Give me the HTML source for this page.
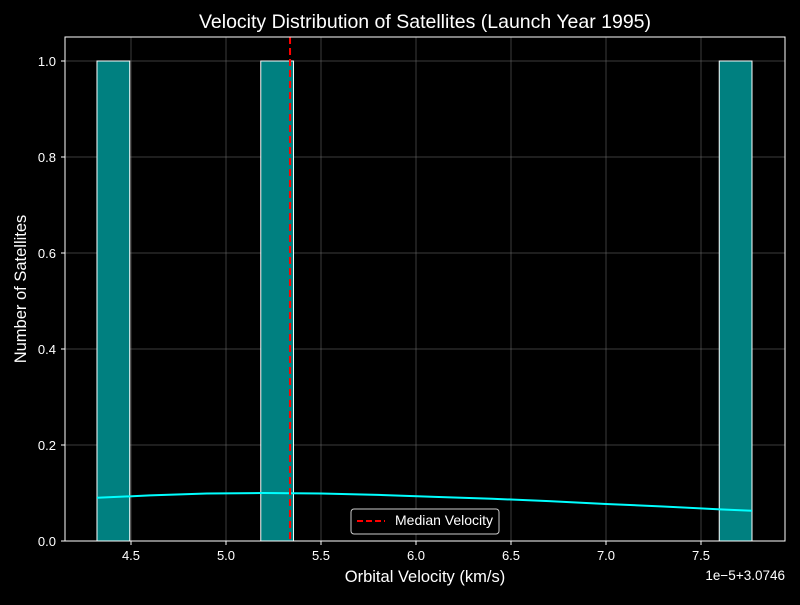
<!DOCTYPE html>
<html><head><meta charset="utf-8"><style>
html,body{margin:0;padding:0;background:#000;}
svg text{font-family:"Liberation Sans",sans-serif;fill:#fff;}
</style></head><body>
<svg id="chart" width="800" height="600" xmlns="http://www.w3.org/2000/svg">
<rect width="800" height="600" fill="#000"/>
<g id="grid"></g><g id="bars"></g><g id="marks"></g><g id="axes"></g>
<text x="425" y="28" font-size="19.5" text-anchor="middle">Velocity Distribution of Satellites (Launch Year 1995)</text>
<text x="425" y="582" font-size="16.5" text-anchor="middle">Orbital Velocity (km/s)</text>
<text transform="translate(26,289) rotate(-90)" font-size="16.5" text-anchor="middle">Number of Satellites</text>
<text x="785" y="580" font-size="13.5" text-anchor="end">1e−5+3.0746</text>
<g>
<rect x="351" y="509" width="148" height="25" rx="3" fill="#000" stroke="#ccc" stroke-width="1"/>
<line x1="357" y1="521" x2="385" y2="521" stroke="#f00" stroke-width="2" stroke-dasharray="6,3"/>
<text x="395" y="525" font-size="14">Median Velocity</text>
</g>
</svg>
<script>
const xTicks=[4.5,5.0,5.5,6.0,6.5,7.0,7.5];
const yTicks=[0.0,0.2,0.4,0.6,0.8,1.0];
const binEdgesStart=[4.321,5.183,7.596];
const binWidth=0.1724;
const counts=[1,1,1];
const median=5.337;
const kdeX=[4.321,4.6,4.9,5.2,5.5,5.8,6.1,6.4,6.7,7.0,7.3,7.6,7.768];
const kdeY=[0.090,0.095,0.099,0.100,0.099,0.096,0.092,0.088,0.083,0.077,0.072,0.066,0.063];
const L=65,R=785,T=37,B=541;
const xs=v=>131+(v-4.5)*190;
const ys=v=>B-v*480;
const NS="http://www.w3.org/2000/svg";
function mk(tag,attrs,parent){const e=document.createElementNS(NS,tag);for(const k in attrs)e.setAttribute(k,attrs[k]);document.getElementById(parent).appendChild(e);return e;}
xTicks.forEach(t=>{
 const g=mk('line',{x1:xs(t),x2:xs(t),y1:T,y2:B,stroke:'#777','stroke-width':0.5},'grid');
 
 
 const tk=mk('line',{x1:xs(t),x2:xs(t),y1:B,y2:B+4,stroke:'#fff'},'axes');
 
 
 const tx=mk('text',{x:xs(t),y:B+19,'font-size':13,'text-anchor':'middle'},'axes');
 tx.textContent=t.toFixed(1);
 
 
});
yTicks.forEach(t=>{
 const g=mk('line',{x1:L,x2:R,y1:ys(t),y2:ys(t),stroke:'#777','stroke-width':0.5},'grid');
 
 
 const tk=mk('line',{x1:L-4,x2:L,y1:ys(t),y2:ys(t),stroke:'#fff'},'axes');
 
 
 const tx=mk('text',{x:L-9,y:ys(t)+5,'font-size':13,'text-anchor':'end'},'axes');
 tx.textContent=t.toFixed(1);
 
 
});
binEdgesStart.forEach((s,i)=>{
 const r=mk('rect',{x:xs(s),y:ys(counts[i]),width:xs(s+binWidth)-xs(s),height:ys(0)-ys(counts[i]),fill:'#008080',stroke:'#fff','stroke-width':1},'bars');
 
 
});
const pl=mk('polyline',{points:kdeX.map((x,i)=>xs(x)+','+ys(kdeY[i])).join(' '),fill:'none',stroke:'#00ffff','stroke-width':2},'marks');


const ml=mk('line',{x1:xs(median),x2:xs(median),y1:T,y2:B,stroke:'#f00','stroke-width':2,'stroke-dasharray':'7,4'},'marks');


const fr=mk('rect',{x:L,y:T,width:R-L,height:B-T,fill:'none',stroke:'#fff','stroke-width':1},'axes');


</script>
</body></html>
